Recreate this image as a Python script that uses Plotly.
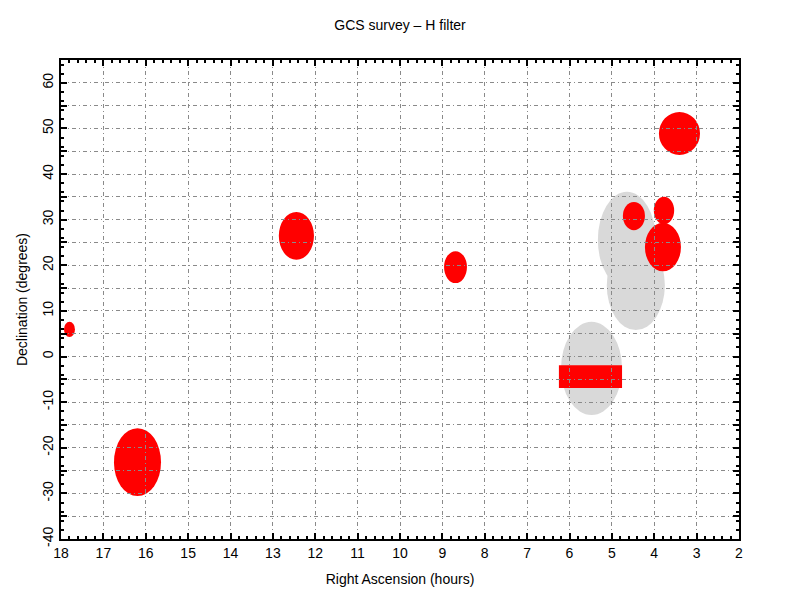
import plotly.graph_objects as go

# Red observed fields (ellipse bounds, RA hours / Dec degrees)
red_ra_max = [17.93, 16.75, 12.86, 8.96, 3.89, 4.74, 4.01, 4.22]
red_ra_min = [17.67, 15.64, 12.03, 8.42, 2.92, 4.22, 3.53, 3.37]
red_dec_min = [4.3, -30.6, 21.2, 16.1, 44.2, 27.7, 29.0, 18.7]
red_dec_max = [7.6, -15.7, 31.7, 23.1, 53.6, 33.9, 35.0, 29.3]

# Red rectangular strip
strip_ra = [6.25, 4.76]
strip_dec = [-6.9, -1.9]

# Grey regions (ellipse bounds)
grey_ra_max = [6.20, 5.33, 5.12]
grey_ra_min = [4.76, 3.96, 3.75]
grey_dec_min = [-12.8, 15.0, 5.8]
grey_dec_max = [7.6, 36.1, 25.5]

x_ticks = list(range(2, 19))
y_ticks = list(range(-40, 66, 5))
y_text = [str(v) if v % 10 == 0 else "" for v in y_ticks]

RED = "#ff0000"
GREY = "#d9d9d9"
FONT = "Liberation Sans"

fig = go.Figure()
# invisible trace to establish axes
fig.add_trace(go.Scatter(x=[18, 2], y=[-40, 65], mode="markers",
                         marker=dict(opacity=0), hoverinfo="skip", showlegend=False))

shapes = []
for a, b, c, d in zip(grey_ra_min, grey_ra_max, grey_dec_min, grey_dec_max):
    shapes.append(dict(type="circle", xref="x", yref="y", x0=a, x1=b, y0=c, y1=d,
                       fillcolor=GREY, line=dict(width=0), layer="below"))
for a, b, c, d in zip(red_ra_min, red_ra_max, red_dec_min, red_dec_max):
    shapes.append(dict(type="circle", xref="x", yref="y", x0=a, x1=b, y0=c, y1=d,
                       fillcolor=RED, line=dict(width=0), layer="below"))
shapes.append(dict(type="rect", xref="x", yref="y", x0=strip_ra[0], x1=strip_ra[1],
                   y0=strip_dec[0], y1=strip_dec[1], fillcolor=RED,
                   line=dict(width=0), layer="below"))

grid_dash = "4px,3px,1px,3px"
GRID = "#8a8a8a"
fig.update_layout(
    width=800, height=600,
    margin=dict(l=61, r=61, t=60, b=61),
    paper_bgcolor="white", plot_bgcolor="white",
    shapes=shapes,
    font=dict(family=FONT, size=14, color="black"),
    title=dict(text="GCS survey – H filter", x=0.5, xanchor="center",
               y=0.958, yanchor="middle", font=dict(family=FONT, size=14)),
    xaxis=dict(range=[18, 2], tickvals=x_ticks, ticks="inside", ticklen=6,
               tickwidth=2, tickcolor="black",
               showline=True, linecolor="black", linewidth=2, mirror="allticks",
               showgrid=True, gridcolor=GRID, gridwidth=1, griddash=grid_dash,
               zeroline=False,
               minor=dict(dtick=0.2, ticks="inside", ticklen=3, tickcolor="black",
                          tickwidth=2, showgrid=False),
               title=dict(text="Right Ascension (hours)", standoff=14,
                          font=dict(family=FONT, size=14)),
               tickfont=dict(family=FONT, size=14)),
    yaxis=dict(range=[-40, 65], tickvals=y_ticks, ticktext=y_text,
               ticks="inside", ticklen=6, tickwidth=2, tickcolor="black",
               tickangle=-90,
               showline=True, linecolor="black", linewidth=2, mirror="allticks",
               showgrid=True, gridcolor=GRID, gridwidth=1, griddash=grid_dash,
               zeroline=False,
               minor=dict(dtick=2, tick0=0, ticks="inside", ticklen=3,
                          tickcolor="black", tickwidth=2, showgrid=False),
               title=dict(text="Declination (degrees)", standoff=10,
                          font=dict(family=FONT, size=14)),
               tickfont=dict(family=FONT, size=14)),
)

fig.write_html("out.html", config={"displayModeBar": False},
               post_script="document.body.style.margin='0';")
